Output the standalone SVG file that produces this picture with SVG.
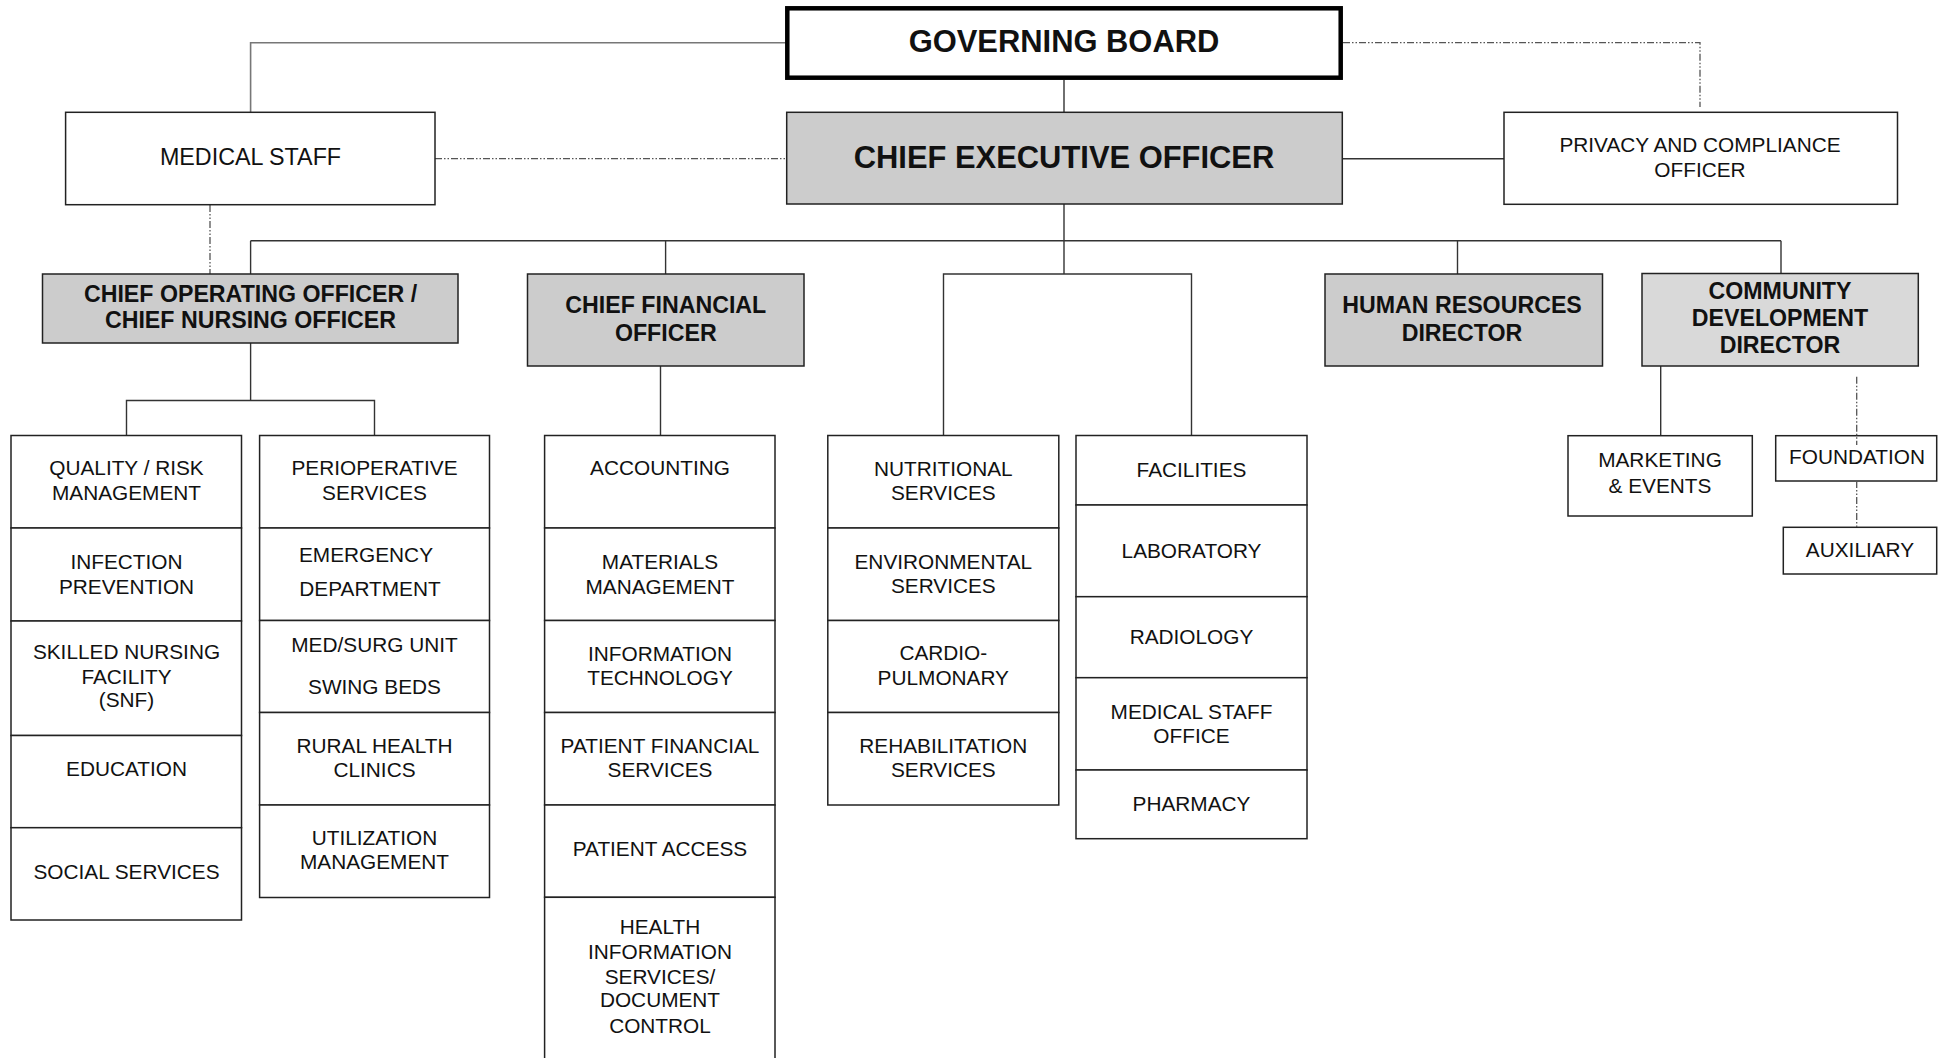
<svg xmlns="http://www.w3.org/2000/svg" width="1948" height="1058" viewBox="0 0 1948 1058">
<style>
.bx{fill:#fff;stroke:#222;stroke-width:1.5}
.gy{fill:#cccccc;stroke:#222;stroke-width:1.5}
.gl{fill:#d9d9d9;stroke:#222;stroke-width:1.5}
.gb{fill:#fff;stroke:#000;stroke-width:4.5}
text{font-family:"Liberation Sans",Arial,sans-serif;fill:#111;text-anchor:middle}
.t{font-size:20.8px}
.h{font-size:23.2px;font-weight:bold}
.big{font-size:30.9px;font-weight:bold}
.ms{font-size:23.3px}
.ln{fill:none;stroke:#333;stroke-width:1.4}
.lg{fill:none;stroke:#777;stroke-width:1.6}
.ds{fill:none;stroke:#555;stroke-width:1.3;stroke-dasharray:7 2 1.5 2 1.5 2}
</style>
<rect width="1948" height="1058" fill="#fff"/>
<g id="connectors">
<polyline class="lg" points="786,42.7 250.6,42.7 250.6,112"/>
<line class="ln" x1="1064" y1="80" x2="1064" y2="112"/>
<polyline class="ds" points="1343,42.7 1700,42.7 1700,107"/>
<line class="ds" x1="435" y1="158.7" x2="786" y2="158.7"/>
<line class="ln" x1="1342" y1="158.7" x2="1504" y2="158.7"/>
<line class="ds" x1="210" y1="205" x2="210" y2="274"/>
<line class="ln" x1="1064" y1="204" x2="1064" y2="274"/>
<line class="ln" x1="250.6" y1="240.7" x2="1781" y2="240.7"/>
<line class="ln" x1="250.6" y1="240.7" x2="250.6" y2="274"/>
<line class="ln" x1="665.6" y1="240.7" x2="665.6" y2="274"/>
<line class="ln" x1="1457.5" y1="240.7" x2="1457.5" y2="274"/>
<line class="ln" x1="1781" y1="240.7" x2="1781" y2="274"/>
<polyline class="ln" points="943.5,435.5 943.5,274 1191.5,274 1191.5,435.5"/>
<line class="ln" x1="250.6" y1="343" x2="250.6" y2="400.5"/>
<polyline class="ln" points="126.5,435.5 126.5,400.5 374.5,400.5 374.5,435.5"/>
<line class="ln" x1="660.5" y1="366" x2="660.5" y2="435.5"/>
<line class="ln" x1="1660.7" y1="366" x2="1660.7" y2="435.7"/>
</g>
<g id="governing-board">
<rect class="gb" x="787.3" y="8.3" width="553.4" height="69.4"/>
<text class="big" x="1064" y="52.3">GOVERNING BOARD</text>
</g>
<g id="ceo">
<rect class="gy" x="786.7" y="112.3" width="555.6" height="91.7"/>
<text class="big" x="1064" y="168">CHIEF EXECUTIVE OFFICER</text>
</g>
<g id="medical-staff">
<rect class="bx" x="65.6" y="112.3" width="369.4" height="92.4"/>
<text class="ms" x="250.5" y="165">MEDICAL STAFF</text>
</g>
<g id="privacy">
<rect class="bx" x="1504" y="112.3" width="393.5" height="92"/>
<text class="t" x="1700" y="151.7">PRIVACY AND COMPLIANCE</text>
<text class="t" x="1700" y="176.7">OFFICER</text>
</g>
<g id="coo">
<rect class="gy" x="42.5" y="274" width="415.5" height="69"/>
<text class="h" x="250.5" y="301.7">CHIEF OPERATING OFFICER /</text>
<text class="h" x="250.5" y="328.3">CHIEF NURSING OFFICER</text>
</g>
<g id="cfo">
<rect class="gy" x="527.5" y="274" width="276.5" height="92"/>
<text class="h" x="665.8" y="313.3">CHIEF FINANCIAL</text>
<text class="h" x="665.8" y="340.7">OFFICER</text>
</g>
<g id="hr">
<rect class="gy" x="1325" y="274" width="277.5" height="92"/>
<text class="h" x="1462" y="313.3">HUMAN RESOURCES</text>
<text class="h" x="1462" y="340.7">DIRECTOR</text>
</g>
<g id="cdd">
<rect class="gl" x="1642" y="273.5" width="276.3" height="92.5"/>
<text class="h" x="1780" y="299">COMMUNITY</text>
<text class="h" x="1780" y="325.7">DEVELOPMENT</text>
<text class="h" x="1780" y="353.3">DIRECTOR</text>
</g>
<g id="col1">
<g id="quality-risk"><rect class="bx" x="11" y="435.5" width="230.5" height="92.5"/>
<text class="t" x="126.5" y="475">QUALITY / RISK</text><text class="t" x="126.5" y="499.8">MANAGEMENT</text></g>
<g id="infection-prevention"><rect class="bx" x="11" y="528" width="230.5" height="93"/>
<text class="t" x="126.5" y="568.7">INFECTION</text><text class="t" x="126.5" y="593.5">PREVENTION</text></g>
<g id="snf"><rect class="bx" x="11" y="621" width="230.5" height="114.5"/>
<text class="t" x="126.5" y="658.8">SKILLED NURSING</text><text class="t" x="126.5" y="684">FACILITY</text><text class="t" x="126.5" y="706.5">(SNF)</text></g>
<g id="education"><rect class="bx" x="11" y="735.5" width="230.5" height="92.2"/>
<text class="t" x="126.5" y="775.7">EDUCATION</text></g>
<g id="social-services"><rect class="bx" x="11" y="827.7" width="230.5" height="92.3"/>
<text class="t" x="126.5" y="879.3">SOCIAL SERVICES</text></g>
</g>
<g id="col2">
<g id="perioperative"><rect class="bx" x="259.6" y="435.5" width="229.9" height="92.5"/>
<text class="t" x="374.5" y="475">PERIOPERATIVE</text><text class="t" x="374.5" y="499.8">SERVICES</text></g>
<g id="emergency"><rect class="bx" x="259.6" y="528" width="229.9" height="92.5"/>
<text class="t" x="366" y="562.3">EMERGENCY</text><text class="t" x="370" y="595.9">DEPARTMENT</text></g>
<g id="medsurg"><rect class="bx" x="259.6" y="620.5" width="229.9" height="92"/>
<text class="t" x="374.5" y="651.5">MED/SURG UNIT</text><text class="t" x="374.5" y="694.2">SWING BEDS</text></g>
<g id="rural-health"><rect class="bx" x="259.6" y="712.5" width="229.9" height="92.5"/>
<text class="t" x="374.5" y="753.1">RURAL HEALTH</text><text class="t" x="374.5" y="776.6">CLINICS</text></g>
<g id="utilization"><rect class="bx" x="259.6" y="805" width="229.9" height="92.5"/>
<text class="t" x="374.5" y="844.8">UTILIZATION</text><text class="t" x="374.5" y="868.8">MANAGEMENT</text></g>
</g>
<g id="col3">
<g id="accounting"><rect class="bx" x="544.6" y="435.5" width="230.4" height="92.5"/>
<text class="t" x="660" y="475">ACCOUNTING</text></g>
<g id="materials"><rect class="bx" x="544.6" y="528" width="230.4" height="92.5"/>
<text class="t" x="660" y="568.7">MATERIALS</text><text class="t" x="660" y="593.5">MANAGEMENT</text></g>
<g id="it"><rect class="bx" x="544.6" y="620.5" width="230.4" height="92"/>
<text class="t" x="660" y="660.5">INFORMATION</text><text class="t" x="660" y="684.8">TECHNOLOGY</text></g>
<g id="pfs"><rect class="bx" x="544.6" y="712.5" width="230.4" height="92.5"/>
<text class="t" x="660" y="753.1">PATIENT FINANCIAL</text><text class="t" x="660" y="776.6">SERVICES</text></g>
<g id="patient-access"><rect class="bx" x="544.6" y="805" width="230.4" height="92.3"/>
<text class="t" x="660" y="855.7">PATIENT ACCESS</text></g>
<g id="his"><rect class="bx" x="544.6" y="897.3" width="230.4" height="177"/>
<text class="t" x="660" y="934.3">HEALTH</text><text class="t" x="660" y="959.3">INFORMATION</text><text class="t" x="660" y="984.3">SERVICES/</text><text class="t" x="660" y="1007.3">DOCUMENT</text><text class="t" x="660" y="1032.7">CONTROL</text></g>
</g>
<g id="col4">
<g id="nutritional"><rect class="bx" x="827.8" y="435.5" width="231" height="92.5"/>
<text class="t" x="943.3" y="475.7">NUTRITIONAL</text><text class="t" x="943.3" y="500.4">SERVICES</text></g>
<g id="environmental"><rect class="bx" x="827.8" y="528" width="231" height="92.5"/>
<text class="t" x="943.3" y="568.7">ENVIRONMENTAL</text><text class="t" x="943.3" y="593.4">SERVICES</text></g>
<g id="cardio"><rect class="bx" x="827.8" y="620.5" width="231" height="92"/>
<text class="t" x="943.3" y="660.4">CARDIO-</text><text class="t" x="943.3" y="684.6">PULMONARY</text></g>
<g id="rehab"><rect class="bx" x="827.8" y="712.5" width="231" height="92.5"/>
<text class="t" x="943.3" y="753">REHABILITATION</text><text class="t" x="943.3" y="776.5">SERVICES</text></g>
</g>
<g id="col5">
<g id="facilities"><rect class="bx" x="1076" y="435.5" width="231" height="69.5"/>
<text class="t" x="1191.5" y="476.8">FACILITIES</text></g>
<g id="laboratory"><rect class="bx" x="1076" y="505" width="231" height="91.7"/>
<text class="t" x="1191.5" y="558.1">LABORATORY</text></g>
<g id="radiology"><rect class="bx" x="1076" y="596.7" width="231" height="81"/>
<text class="t" x="1191.5" y="644">RADIOLOGY</text></g>
<g id="medical-staff-office"><rect class="bx" x="1076" y="677.7" width="231" height="92.3"/>
<text class="t" x="1191.5" y="719.3">MEDICAL STAFF</text><text class="t" x="1191.5" y="742.7">OFFICE</text></g>
<g id="pharmacy"><rect class="bx" x="1076" y="770" width="231" height="68.7"/>
<text class="t" x="1191.5" y="811">PHARMACY</text></g>
</g>
<g id="marketing">
<rect class="bx" x="1568" y="435.7" width="184.3" height="80.3"/>
<text class="t" x="1660" y="467.3">MARKETING</text>
<text class="t" x="1660" y="492.7">&amp; EVENTS</text>
</g>
<g id="foundation">
<rect class="bx" x="1775.7" y="435.7" width="161" height="45.3"/>
<text class="t" x="1857" y="464">FOUNDATION</text>
</g>
<g id="auxiliary">
<rect class="bx" x="1783.3" y="527.3" width="153.4" height="46.7"/>
<text class="t" x="1860" y="556.7">AUXILIARY</text>
</g>
<g id="dashed-links">
<line class="ds" x1="1856.7" y1="376.7" x2="1856.7" y2="445"/>
<line class="ds" x1="1856.7" y1="481" x2="1856.7" y2="527"/>
</g>
</svg>
